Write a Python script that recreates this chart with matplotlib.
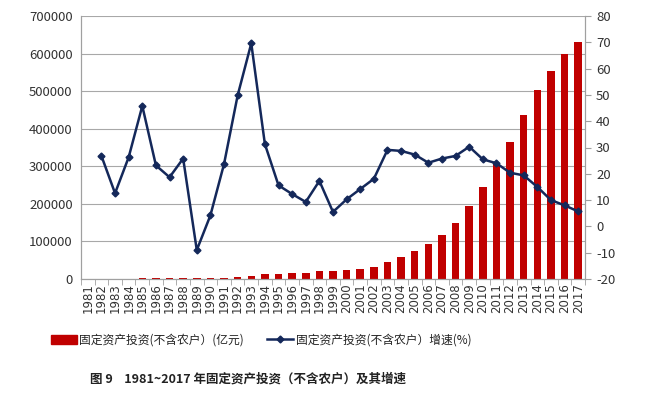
import numpy as np
import matplotlib.pyplot as plt
from matplotlib.lines import Line2D
from matplotlib.patches import Patch

plt.rcParams['font.family'] = ['Noto Sans CJK SC', 'DejaVu Sans']
plt.rcParams['axes.unicode_minus'] = False

years = list(range(1981, 2018))
invest = [700, 850, 950, 1200, 1700, 2100, 2500, 3100, 2800, 2900, 3600, 5400,
          9200, 12100, 14000, 15800, 17300, 20300, 21400, 23400, 26500, 31400,
          45800, 59000, 75100, 92300, 116200, 148000, 193400, 243900, 305000,
          364400, 435400, 502000, 552500, 597700, 631000]
growth = [None, 26.8, 12.6, 26.3, 45.8, 23.2, 18.7, 25.8, -9.0, 4.2, 23.7, 49.8,
          69.6, 31.3, 15.6, 12.3, 9.3, 17.3, 5.5, 10.3, 14.2, 18.1, 29.1, 28.7,
          27.3, 24.2, 25.8, 26.8, 30.3, 25.5, 24.0, 20.4, 19.4, 15.0, 10.0, 8.0, 5.7]

bar_label = "固定资产投资(不含农户）(亿元)"
line_label = "固定资产投资(不含农户）增速(%)"
caption = "图 9    1981~2017 年固定资产投资（不含农户）及其增速"

red = "#C00000"
navy = "#14285A"

fig = plt.figure(figsize=(6.5, 3.99), dpi=100)
ax = fig.add_axes([81/650, 1 - 279/399, 504/650, 263/399])
x = np.arange(len(years))

ax.bar(x, invest, width=0.55, color=red, zorder=2)
ax.set_ylim(0, 700000)
ax.set_yticks(range(0, 700001, 100000))
ax.set_xlim(-0.5, len(years) - 0.5)
ax.set_xticks(x)
ax.set_xticklabels([str(y) for y in years], rotation=90, fontsize=8.5,
                   fontfamily='DejaVu Sans', color='#333333')
ax.tick_params(axis='x', length=0, pad=3)
ax.set_xticks(np.arange(-0.5, len(years)), minor=True)
ax.tick_params(axis='x', which='minor', length=4, color='#A0A0A0')
ax.tick_params(axis='y', length=0, labelsize=9.5, pad=6, labelcolor='#333333')
ax.grid(axis='y', color='#A8A8A8', linewidth=0.8, zorder=0)
ax.set_axisbelow(True)
ax.spines['top'].set_visible(False)
for s in ['left', 'right', 'bottom']:
    ax.spines[s].set_color('#A0A0A0')

ax2 = ax.twinx()
gx = [i for i, g in enumerate(growth) if g is not None]
gy = [g for g in growth if g is not None]
ax2.plot(gx, gy, color=navy, linewidth=1.8, marker='D', markersize=3.5, zorder=3)
ax2.set_ylim(-20, 80)
ax2.set_yticks(range(-20, 81, 10))
ax2.tick_params(axis='y', length=4, color='#A0A0A0', labelsize=9.5, pad=4,
                labelcolor='#333333')
ax2.spines['top'].set_visible(False)
for s in ['left', 'right', 'bottom']:
    ax2.spines[s].set_color('#A0A0A0')

handles = [Patch(color=red, label=bar_label),
           Line2D([0], [0], color=navy, linewidth=1.8, marker='D', markersize=3.5,
                  label=line_label)]
fig.legend(handles=handles, loc='center', bbox_to_anchor=(261/650, 1 - 340/399),
           ncol=2, frameon=False, fontsize=8.5, handlelength=2.2,
           handletextpad=0.2, columnspacing=2.0, labelcolor='#222222')

fig.text(248/650, 1 - 379/399, caption, ha='center', va='center',
         fontsize=9, fontweight='bold', color='#222222')

fig.savefig("out.png", dpi=100)
